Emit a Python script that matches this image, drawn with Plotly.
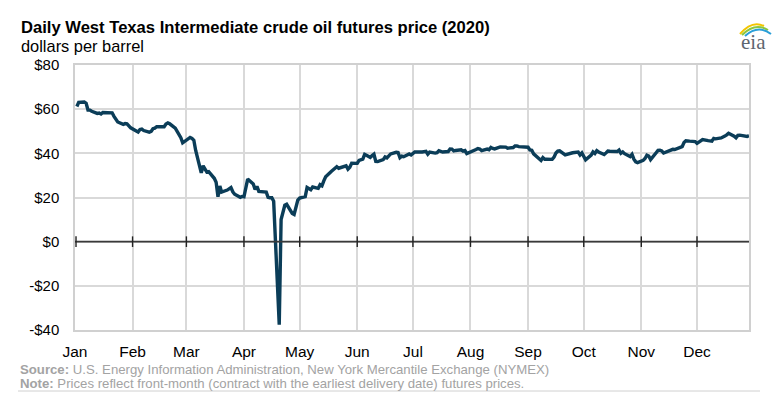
import plotly.graph_objects as go

# ---------------- data ----------------
trade_dates = [
    # Jan
    "2020-01-02","2020-01-03","2020-01-06","2020-01-07","2020-01-08","2020-01-09","2020-01-10",
    "2020-01-13","2020-01-14","2020-01-15","2020-01-16","2020-01-17","2020-01-21","2020-01-22",
    "2020-01-23","2020-01-24","2020-01-27","2020-01-28","2020-01-29","2020-01-30","2020-01-31",
    # Feb
    "2020-02-03","2020-02-04","2020-02-05","2020-02-06","2020-02-07","2020-02-10","2020-02-11",
    "2020-02-12","2020-02-13","2020-02-14","2020-02-18","2020-02-19","2020-02-20","2020-02-21",
    "2020-02-24","2020-02-25","2020-02-26","2020-02-27","2020-02-28",
    # Mar
    "2020-03-02","2020-03-03","2020-03-04","2020-03-05","2020-03-06","2020-03-09","2020-03-10",
    "2020-03-11","2020-03-12","2020-03-13","2020-03-16","2020-03-17","2020-03-18","2020-03-19",
    "2020-03-20","2020-03-23","2020-03-24","2020-03-25","2020-03-26","2020-03-27","2020-03-30",
    "2020-03-31",
    # Apr
    "2020-04-01","2020-04-02","2020-04-03","2020-04-06","2020-04-07","2020-04-08","2020-04-09",
    "2020-04-13","2020-04-14","2020-04-15","2020-04-16","2020-04-17","2020-04-20","2020-04-21",
    "2020-04-22","2020-04-23","2020-04-24","2020-04-27","2020-04-28","2020-04-29","2020-04-30",
    # May
    "2020-05-01","2020-05-04","2020-05-05","2020-05-06","2020-05-07","2020-05-08","2020-05-11",
    "2020-05-12","2020-05-13","2020-05-14","2020-05-15","2020-05-18","2020-05-19","2020-05-20",
    "2020-05-21","2020-05-22","2020-05-26","2020-05-27","2020-05-28","2020-05-29",
    # Jun
    "2020-06-01","2020-06-02","2020-06-03","2020-06-04","2020-06-05","2020-06-08","2020-06-09",
    "2020-06-10","2020-06-11","2020-06-12","2020-06-15","2020-06-16","2020-06-17","2020-06-18",
    "2020-06-19","2020-06-22","2020-06-23","2020-06-24","2020-06-25","2020-06-26","2020-06-29",
    "2020-06-30",
    # Jul
    "2020-07-01","2020-07-02","2020-07-06","2020-07-07","2020-07-08","2020-07-09","2020-07-10",
    "2020-07-13","2020-07-14","2020-07-15","2020-07-16","2020-07-17","2020-07-20","2020-07-21",
    "2020-07-22","2020-07-23","2020-07-24","2020-07-27","2020-07-28","2020-07-29","2020-07-30",
    "2020-07-31",
    # Aug
    "2020-08-03","2020-08-04","2020-08-05","2020-08-06","2020-08-07","2020-08-10","2020-08-11",
    "2020-08-12","2020-08-13","2020-08-14","2020-08-17","2020-08-18","2020-08-19","2020-08-20",
    "2020-08-21","2020-08-24","2020-08-25","2020-08-26","2020-08-27","2020-08-28","2020-08-31",
    # Sep
    "2020-09-01","2020-09-02","2020-09-03","2020-09-04","2020-09-08","2020-09-09","2020-09-10",
    "2020-09-11","2020-09-14","2020-09-15","2020-09-16","2020-09-17","2020-09-18","2020-09-21",
    "2020-09-22","2020-09-23","2020-09-24","2020-09-25","2020-09-28","2020-09-29","2020-09-30",
    # Oct
    "2020-10-01","2020-10-02","2020-10-05","2020-10-06","2020-10-07","2020-10-08","2020-10-09",
    "2020-10-12","2020-10-13","2020-10-14","2020-10-15","2020-10-16","2020-10-19","2020-10-20",
    "2020-10-21","2020-10-22","2020-10-23","2020-10-26","2020-10-27","2020-10-28","2020-10-29",
    "2020-10-30",
    # Nov
    "2020-11-02","2020-11-03","2020-11-04","2020-11-05","2020-11-06","2020-11-09","2020-11-10",
    "2020-11-11","2020-11-12","2020-11-13","2020-11-16","2020-11-17","2020-11-18","2020-11-19",
    "2020-11-20","2020-11-23","2020-11-24","2020-11-25","2020-11-27","2020-11-30",
    # Dec
    "2020-12-01","2020-12-02","2020-12-03","2020-12-04","2020-12-07","2020-12-08","2020-12-09",
    "2020-12-10","2020-12-11","2020-12-14","2020-12-15","2020-12-16","2020-12-17","2020-12-18",
    "2020-12-21","2020-12-22","2020-12-23","2020-12-24","2020-12-28","2020-12-29",
]

wti_price = [
    # Jan
    61.18, 63.05, 63.27, 62.70, 59.61, 59.56, 59.04, 58.08, 58.23, 57.81, 58.52, 58.54, 58.34, 56.74,
    55.59, 54.19, 53.14, 53.48, 53.33, 52.14, 51.56,
    # Feb
    50.11, 49.61, 50.75, 50.95, 50.32, 49.57, 49.94, 51.17, 51.42, 52.05, 52.05, 53.29, 53.78, 53.38,
    51.43, 49.90, 48.73, 47.09, 44.76,
    # Mar
    46.75, 47.18, 46.78, 45.90, 41.28, 31.13, 34.36, 32.98, 31.50, 31.73, 28.70, 26.95, 20.37, 25.22,
    22.43, 23.36, 24.01, 24.49, 22.60, 21.51, 20.09, 20.48,
    # Apr
    20.31, 25.32, 28.34, 26.08, 23.63, 25.09, 22.76, 22.41, 20.11, 19.87, 19.87, 18.27, -37.63, 10.01,
    13.78, 16.50, 16.94, 12.78, 12.34, 15.06, 18.84,
    # May
    19.78, 20.39, 24.56, 23.99, 23.55, 24.74, 24.14, 25.78, 25.29, 27.56, 29.43, 31.82, 32.50, 33.49,
    33.92, 33.25, 34.35, 32.81, 33.71, 35.49,
    # Jun
    35.44, 36.81, 37.29, 37.41, 39.55, 38.19, 38.94, 39.60, 36.34, 36.26, 37.12, 38.38, 37.96, 38.84,
    39.75, 40.46, 40.37, 38.01, 38.72, 38.49, 39.70, 39.27,
    # Jul
    39.82, 40.65, 40.63, 40.62, 40.90, 39.62, 40.55, 40.10, 40.29, 41.20, 40.75, 40.59, 40.81, 41.96,
    41.90, 41.07, 41.29, 41.60, 41.04, 41.27, 39.92, 40.27,
    # Aug
    41.01, 41.70, 42.19, 41.95, 41.22, 41.94, 41.61, 42.67, 42.24, 42.01, 42.89, 42.89, 42.93, 42.82,
    42.34, 42.62, 43.35, 43.39, 43.04, 42.97, 42.61,
    # Sep
    42.76, 41.51, 41.37, 39.77, 36.76, 38.05, 37.30, 37.33, 37.26, 38.28, 40.16, 40.97, 41.11, 39.31,
    39.60, 39.93, 40.31, 40.25, 40.60, 39.29, 40.22,
    # Oct
    38.72, 37.05, 39.22, 40.67, 39.95, 41.19, 40.60, 39.43, 40.20, 41.04, 40.96, 40.88, 40.83, 41.46,
    40.03, 40.64, 39.85, 38.56, 39.57, 37.39, 36.17, 35.79,
    # Nov
    36.81, 37.66, 39.15, 38.79, 37.14, 40.29, 41.36, 41.45, 41.12, 40.13, 41.34, 41.43, 41.82, 41.74,
    42.15, 43.06, 44.91, 45.71, 45.53, 45.34,
    # Dec
    44.55, 45.28, 45.64, 46.26, 45.76, 45.60, 45.52, 46.78, 46.57, 46.99, 47.62, 47.82, 48.36, 49.10,
    47.74, 47.02, 48.12, 48.23, 47.62, 48.00,
]

month_starts = ["2020-01-01", "2020-02-01", "2020-03-01", "2020-04-01", "2020-05-01", "2020-06-01",
                "2020-07-01", "2020-08-01", "2020-09-01", "2020-10-01", "2020-11-01", "2020-12-01"]
month_labels = ["Jan", "Feb", "Mar", "Apr", "May", "Jun", "Jul", "Aug", "Sep", "Oct", "Nov", "Dec"]

y_tick_values = [-40, -20, 0, 20, 40, 60, 80]
y_tick_labels = ["-$40", "-$20", "$0", "$20", "$40", "$60", "$80"]

title_text = "Daily West Texas Intermediate crude oil futures price (2020)"
unit_text = "dollars per barrel"
source_text = "<b>Source:</b> U.S. Energy Information Administration, New York Mercantile Exchange (NYMEX)"
note_text = "<b>Note:</b> Prices reflect front-month (contract with the earliest delivery date) futures prices."

# ---------------- layout geometry (pixels) ----------------
W, H = 781, 393
PL, PR, PT, PB = 75, 749, 65, 330   # plot area edges


def px(xp):
    return (xp - PL) / (PR - PL)


def py(yp):
    return (PB - yp) / (PB - PT)


FONT = "Liberation Sans, Arial, sans-serif"
LINE_COLOR = "#0b3d58"
GRID = "#d9d9d9"

fig = go.Figure()
fig.add_trace(go.Scatter(
    x=trade_dates, y=wti_price, mode="lines",
    line=dict(color=LINE_COLOR, width=3.4, shape="linear"),
    hoverinfo="x+y", showlegend=False,
))

shapes = []
# zero line
shapes.append(dict(type="line", xref="paper", yref="y", x0=0, x1=1, y0=0, y1=0,
                   line=dict(color="#3a3a3a", width=1.6), layer="above"))
# tick marks crossing the zero line at each month start
for d in month_starts[1:]:
    shapes.append(dict(type="line", xref="x", yref="y", x0=d, x1=d, y0=-2.4, y1=2.4,
                       line=dict(color="#222222", width=1.4), layer="above"))
shapes.append(dict(type="line", xref="paper", yref="y", x0=0.0015, x1=0.0015, y0=-2.4, y1=2.4,
                   line=dict(color="#222222", width=1.4), layer="above"))
# footer rule
shapes.append(dict(type="line", xref="paper", yref="paper", x0=px(18), x1=px(760),
                   y0=py(391), y1=py(391), line=dict(color="#d0d0d0", width=1)))
# eia logo arcs
arc_specs = [("#f2c500", 740, 34, 752, 20, 764, 26),
             ("#8cc63f", 742, 35, 755, 22, 768, 30),
             ("#2a9fd8", 745, 36, 758, 24, 771, 34)]
for col, x0, y0, cx, cy, x1, y1 in arc_specs:
    shapes.append(dict(type="path", xref="paper", yref="paper",
                       path=f"M {px(x0)} {py(y0)} Q {px(cx)} {py(cy)} {px(x1)} {py(y1)}",
                       line=dict(color=col, width=2)))

annotations = [
    dict(text=f"<b>{title_text}</b>", xref="paper", yref="paper", x=px(19), y=py(27),
         xanchor="left", yanchor="middle", showarrow=False,
         font=dict(family=FONT, size=16.6, color="#000000")),
    dict(text=unit_text, xref="paper", yref="paper", x=px(19), y=py(46),
         xanchor="left", yanchor="middle", showarrow=False,
         font=dict(family=FONT, size=16.4, color="#000000")),
    dict(text=source_text, xref="paper", yref="paper", x=px(18), y=py(369.5),
         xanchor="left", yanchor="middle", showarrow=False,
         font=dict(family=FONT, size=13.2, color="#a3a3a3")),
    dict(text=note_text, xref="paper", yref="paper", x=px(18), y=py(383),
         xanchor="left", yanchor="middle", showarrow=False,
         font=dict(family=FONT, size=13.2, color="#a3a3a3")),
    dict(text="eia", xref="paper", yref="paper", x=px(753), y=py(42),
         xanchor="center", yanchor="middle", showarrow=False,
         font=dict(family="Liberation Serif, DejaVu Serif, serif", size=21, color="#5d6670")),
]

fig.update_layout(
    width=W, height=H, autosize=False,
    margin=dict(l=PL, r=W - PR, t=PT, b=H - PB, pad=0),
    paper_bgcolor="white", plot_bgcolor="white",
    shapes=shapes, annotations=annotations,
    font=dict(family=FONT, size=15, color="#000000"),
    xaxis=dict(
        type="date", range=["2020-01-01", "2020-12-29"],
        tickmode="array", tickvals=month_starts, ticktext=month_labels,
        showgrid=True, gridcolor=GRID, gridwidth=1.5,
        ticks="", showline=True, linecolor="#d0d0d0", linewidth=1.5, mirror=True,
        zeroline=False, ticklabelstandoff=7,
        tickfont=dict(family=FONT, size=15.5, color="#000000"),
        fixedrange=True,
    ),
    yaxis=dict(
        range=[-40, 80], tickmode="array", tickvals=y_tick_values, ticktext=y_tick_labels,
        showgrid=True, gridcolor=GRID, gridwidth=1.5,
        ticks="", showline=True, linecolor="#d0d0d0", linewidth=1.5, mirror=True,
        zeroline=False, ticklabelstandoff=11,
        tickfont=dict(family=FONT, size=15, color="#000000"),
        fixedrange=True,
    ),
)

fig.write_html("out.html", config={"displayModeBar": False},
               post_script="document.body.style.margin='0';document.body.style.overflow='hidden';")
